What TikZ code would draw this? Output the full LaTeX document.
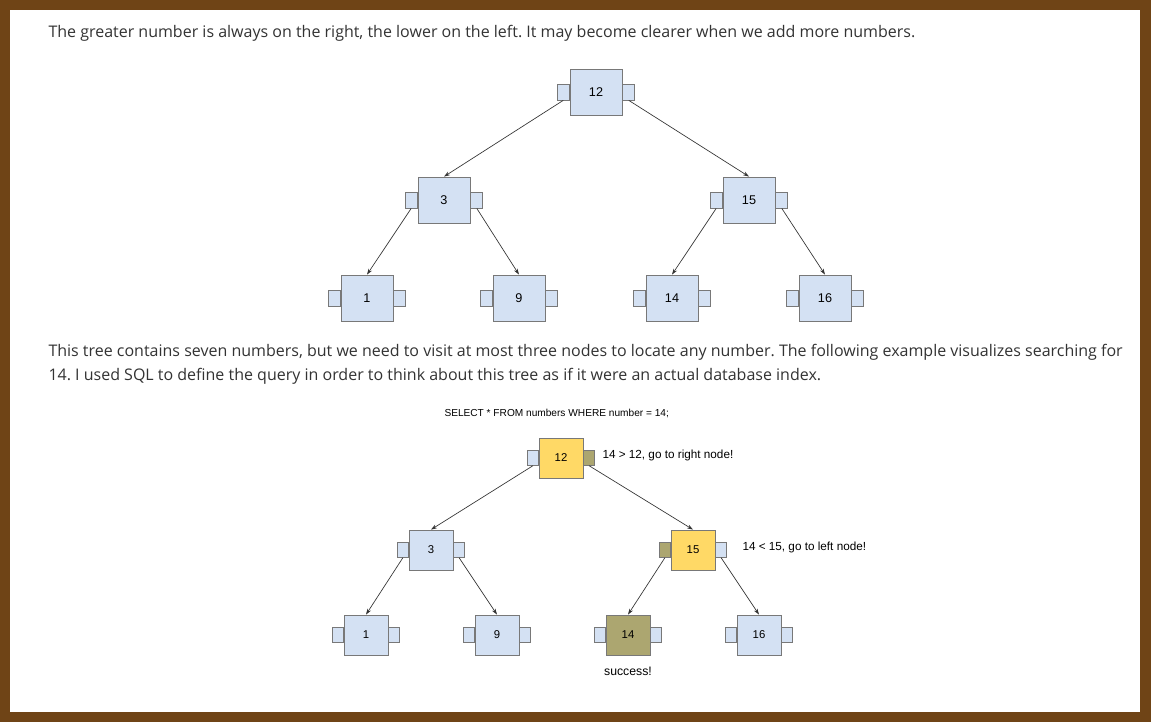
\documentclass[tikz,border=0pt]{standalone}
\usepackage{fontspec}
\setmainfont{Open Sans}
\newfontfamily\diagfont{Liberation Sans}
\usetikzlibrary{arrows.meta}
\frenchspacing

\definecolor{framebrown}{RGB}{111,68,22}
\definecolor{bodytext}{RGB}{51,51,51}
\definecolor{keyblue}{RGB}{212,225,243}
\definecolor{keyyellow}{RGB}{255,217,102}
\definecolor{keyhit}{RGB}{172,166,112}
\definecolor{keyedge}{RGB}{120,120,120}

\tikzset{every picture/.style={line width=0.75pt}}
\tikzset{
  keybox/.style={draw=keyedge, fill=keyblue, line width=0.6pt, minimum width=39pt, minimum height=34.5pt, inner sep=0pt, font=\diagfont\fontsize{9.5}{11}\selectfont},
  sidebox/.style={draw=keyedge, fill=keyblue, line width=0.6pt, minimum width=9pt, minimum height=12pt, inner sep=0pt},
  smallkey/.style={keybox, minimum width=33pt, minimum height=30pt, font=\diagfont\fontsize{8.5}{10}\selectfont},
  smallside/.style={sidebox, minimum width=8pt, minimum height=11pt},
  ptr/.style={draw=black!80, line width=0.5pt, -{Stealth[length=4.5pt,width=3pt]}},
  para/.style={anchor=west, inner sep=0pt, text=bodytext, font=\fontsize{12}{14}\selectfont},
  note/.style={anchor=west, inner sep=0pt, font=\diagfont\fontsize{8.8}{10}\selectfont}
}

\begin{document}
\begin{tikzpicture}[x=0.75pt,y=0.75pt,yscale=-1,xscale=1]
\useasboundingbox (0,0) rectangle (1151,722);

%Frame
\fill [framebrown] (0,0) rectangle (1151,722);
\fill [white] (10,10) rectangle (1140,712);

% Text Node
\node [para] (intro) at (48,33) {The greater number is always on the right, the lower on the left. It may become clearer when we add more numbers.};

%First tree
\node [keybox] (a12) at (596,92) {12};
\node [sidebox, anchor=east] (a12l) at (a12.west) {};
\node [sidebox, anchor=west] (a12r) at (a12.east) {};
\node [keybox] (a3) at (444,200) {3};
\node [sidebox, anchor=east] (a3l) at (a3.west) {};
\node [sidebox, anchor=west] (a3r) at (a3.east) {};
\node [keybox] (a15) at (749,200) {15};
\node [sidebox, anchor=east] (a15l) at (a15.west) {};
\node [sidebox, anchor=west] (a15r) at (a15.east) {};
\node [keybox] (a1) at (367,298) {1};
\node [sidebox, anchor=east] (a1l) at (a1.west) {};
\node [sidebox, anchor=west] (a1r) at (a1.east) {};
\node [keybox] (a9) at (519,298) {9};
\node [sidebox, anchor=east] (a9l) at (a9.west) {};
\node [sidebox, anchor=west] (a9r) at (a9.east) {};
\node [keybox] (a14) at (672,298) {14};
\node [sidebox, anchor=east] (a14l) at (a14.west) {};
\node [sidebox, anchor=west] (a14r) at (a14.east) {};
\node [keybox] (a16) at (825,298) {16};
\node [sidebox, anchor=east] (a16l) at (a16.west) {};
\node [sidebox, anchor=west] (a16r) at (a16.east) {};

%Pointers
\draw [ptr] (a12l.south) -- (a3.north);
\draw [ptr] (a12r.south) -- (a15.north);
\draw [ptr] (a3l.south) -- (a1.north);
\draw [ptr] (a3r.south) -- (a9.north);
\draw [ptr] (a15l.south) -- (a14.north);
\draw [ptr] (a15r.south) -- (a16.north);

% Text Node
\node [para] (story1) at (48,352) {This tree contains seven numbers, but we need to visit at most three nodes to locate any number. The following example visualizes searching for};
\node [para] (story2) at (48,376) {14. I used SQL to define the query in order to think about this tree as if it were an actual database index.};

% Text Node
\node [note, font=\diagfont\fontsize{7.6}{9}\selectfont] (query) at (444,413) {SELECT * FROM numbers WHERE number = 14;};

%Second tree
\node [smallkey, fill=keyyellow] (b12) at (561,458) {12};
\node [smallside, anchor=east] (b12l) at (b12.west) {};
\node [smallside, anchor=west, fill=keyhit] (b12r) at (b12.east) {};
\node [smallkey] (b3) at (431,550) {3};
\node [smallside, anchor=east] (b3l) at (b3.west) {};
\node [smallside, anchor=west] (b3r) at (b3.east) {};
\node [smallkey, fill=keyyellow] (b15) at (693,550) {15};
\node [smallside, anchor=east, fill=keyhit] (b15l) at (b15.west) {};
\node [smallside, anchor=west] (b15r) at (b15.east) {};
\node [smallkey] (b1) at (366,635) {1};
\node [smallside, anchor=east] (b1l) at (b1.west) {};
\node [smallside, anchor=west] (b1r) at (b1.east) {};
\node [smallkey] (b9) at (497,635) {9};
\node [smallside, anchor=east] (b9l) at (b9.west) {};
\node [smallside, anchor=west] (b9r) at (b9.east) {};
\node [smallkey, fill=keyhit] (b14) at (628,635) {14};
\node [smallside, anchor=east] (b14l) at (b14.west) {};
\node [smallside, anchor=west] (b14r) at (b14.east) {};
\node [smallkey] (b16) at (759,635) {16};
\node [smallside, anchor=east] (b16l) at (b16.west) {};
\node [smallside, anchor=west] (b16r) at (b16.east) {};

%Pointers
\draw [ptr] (b12l.south) -- (b3.north);
\draw [ptr] (b12r.south) -- (b15.north);
\draw [ptr] (b3l.south) -- (b1.north);
\draw [ptr] (b3r.south) -- (b9.north);
\draw [ptr] (b15l.south) -- (b14.north);
\draw [ptr] (b15r.south) -- (b16.north);

% Text Node
\node [note] (step1) at (602,455) {14 > 12, go to right node!};
\node [note] (step2) at (742,547) {14 < 15, go to left node!};
\node [note, anchor=center, font=\diagfont\fontsize{9.2}{11}\selectfont] (found) at (628,671) {success!};

\end{tikzpicture}
\end{document}
